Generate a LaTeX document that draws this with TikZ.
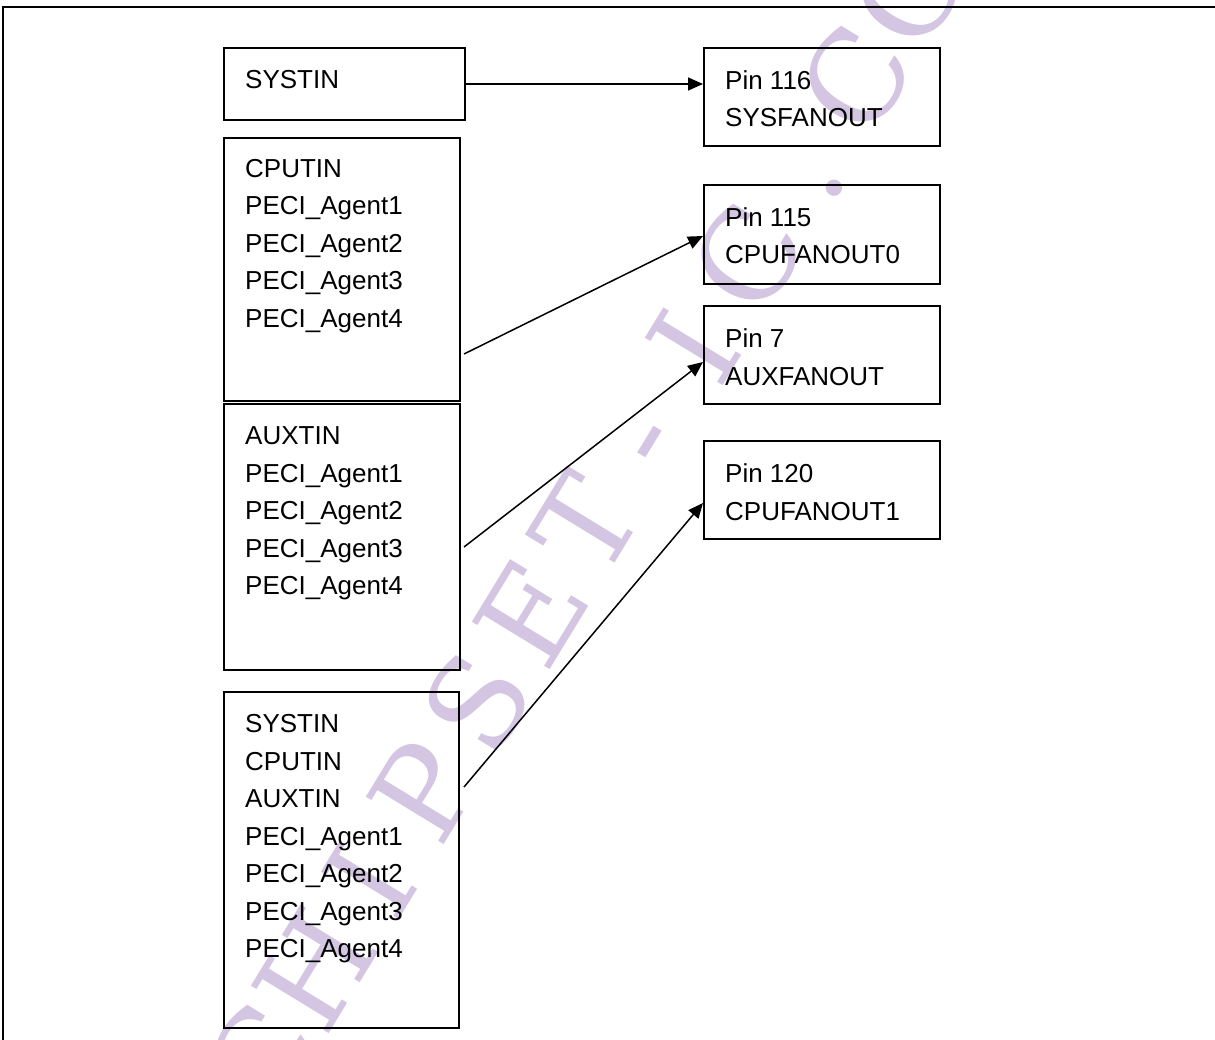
\documentclass[tikz,border=0pt]{standalone}
\usepackage{fontspec}
\setmainfont{Liberation Sans}
\newfontfamily\wmfont{DejaVu Serif}
\usetikzlibrary{arrows.meta}
\definecolor{wm}{RGB}{212,198,226}
\begin{document}
\begin{tikzpicture}[x=1pt,y=-1pt,
  box/.style={draw, line width=2pt, inner sep=0pt, anchor=north west},
  lbl/.style={anchor=base west, inner sep=0pt, align=left, font=\fontsize{26}{37.5}\selectfont},
  conn/.style={line width=1.5pt, -{Triangle[length=15pt,width=13pt]}},
  wml/.style={anchor=base, inner sep=0pt, text=wm, font=\wmfont\fontsize{125}{125}\selectfont, rotate=58.6}]
\useasboundingbox (0,0) rectangle (1215,1040);
\fill[white] (0,0) rectangle (1215,1040);
% watermark
\foreach \ch [count=\i from 0] in {C,H,I,P,S,E,T,-,I,C,.,C,O,M}
  \node[wml] (wm\i) at ({300+54*\i},{1082-89*\i}) {\ch};
% frame
\draw[line width=2.5pt] (3,1040) -- (3,7) -- (1215,7);
% boxes
\node[box, minimum width=241pt, minimum height=72pt] (b1) at (223,47) {};
\node[box, minimum width=236pt, minimum height=263pt] (b2) at (223,137) {};
\node[box, minimum width=236pt, minimum height=266pt] (b3) at (223,402.5) {};
\node[box, minimum width=235pt, minimum height=336pt] (b4) at (223,691) {};
\node[box, minimum width=236pt, minimum height=98pt] (p116) at (703,47) {};
\node[box, minimum width=236pt, minimum height=99pt] (p115) at (703,184) {};
\node[box, minimum width=236pt, minimum height=98pt] (p7) at (703,305) {};
\node[box, minimum width=236pt, minimum height=98pt] (p120) at (703,440) {};
% labels (anchored at the baseline of their last line)
\node[lbl] (t1) at (245,89) {SYSTIN};
\node[lbl] (t2) at (245,327.5) {CPUTIN\\PECI\_Agent1\\PECI\_Agent2\\PECI\_Agent3\\PECI\_Agent4};
\node[lbl] (t3) at (245,594.5) {AUXTIN\\PECI\_Agent1\\PECI\_Agent2\\PECI\_Agent3\\PECI\_Agent4};
\node[lbl] (t4) at (245,957.5) {SYSTIN\\CPUTIN\\AUXTIN\\PECI\_Agent1\\PECI\_Agent2\\PECI\_Agent3\\PECI\_Agent4};
\node[lbl] (u1) at (725,127) {Pin 116\\SYSFANOUT};
\node[lbl] (u2) at (725,264) {Pin 115\\CPUFANOUT0};
\node[lbl] (u3) at (725,385) {Pin 7\\AUXFANOUT};
\node[lbl] (u4) at (725,520) {Pin 120\\CPUFANOUT1};
% connectors
\coordinate (s1) at (464,84);
\coordinate (s2) at (464,354);
\coordinate (s3) at (464,547);
\coordinate (s4) at (464,787);
\draw[conn] (s1) -- (s1 -| p116.west);
\draw[conn] (s2) -- ([yshift=-1.5pt]p115.west);
\draw[conn] (s3) -- ([yshift=-7pt]p7.west);
\draw[conn] (s4) -- ([yshift=-13pt]p120.west);
\end{tikzpicture}
\end{document}
